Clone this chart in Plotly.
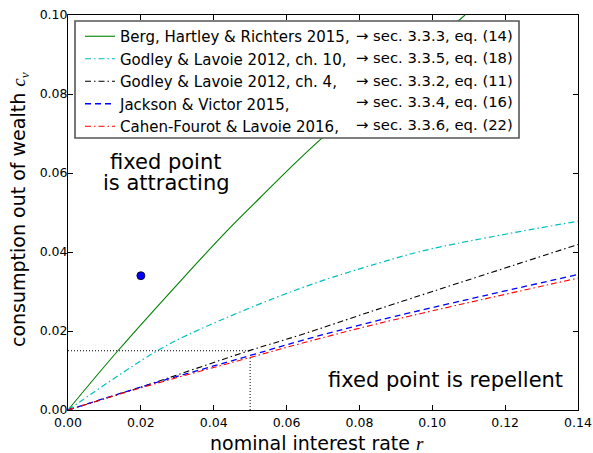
import plotly.graph_objects as go

# ---- data ----
r_berg = [0.0, 0.0137, 0.0313, 0.0441, 0.0528, 0.0610, 0.0700, 0.1090]
c_berg = [0.0, 0.0150, 0.0331, 0.0458, 0.0538, 0.0613, 0.0691, 0.1000]

r_gl10 = [0.0, 0.0245, 0.0359, 0.0638, 0.0857, 0.1003, 0.1400]
c_gl10 = [0.0, 0.0150, 0.0203, 0.0308, 0.0373, 0.0409, 0.0478]

r_gl4 = [0.0, 0.020, 0.050, 0.0638, 0.0857, 0.140]
c_gl4 = [0.0, 0.0058, 0.0151, 0.0190, 0.0257, 0.0419]

r_jv = [0.0, 0.020, 0.050, 0.0638, 0.0857, 0.140]
c_jv = [0.0, 0.0058, 0.0138, 0.0175, 0.0228, 0.0343]

r_cf = [0.0, 0.020, 0.050, 0.0638, 0.0857, 0.140]
c_cf = [0.0, 0.0056, 0.0133, 0.0168, 0.0220, 0.0334]

names = ["Berg, Hartley & Richters 2015,",
         "Godley & Lavoie 2012, ch. 10,",
         "Godley & Lavoie 2012, ch. 4,",
         "Jackson & Victor 2015,",
         "Cahen-Fourot & Lavoie 2016,"]
refs = ["→ sec. 3.3.3, eq. (14)",
        "→ sec. 3.3.5, eq. (18)",
        "→ sec. 3.3.2, eq. (11)",
        "→ sec. 3.3.4, eq. (16)",
        "→ sec. 3.3.6, eq. (22)"]

guide_h_r = [0.0, 0.0496]
guide_h_c = [0.015, 0.015]
guide_v_r = [0.05, 0.05]
guide_v_c = [0.0, 0.0131]

point_r = [0.02]
point_c = [0.034]

x_ticks = [0.0, 0.02, 0.04, 0.06, 0.08, 0.10, 0.12, 0.14]
y_ticks = [0.0, 0.02, 0.04, 0.06, 0.08, 0.10]

x_title = "nominal interest rate <i><span style='font-family:Liberation Serif'>r</span></i>"
y_title = "consumption out of wealth <i><span style='font-family:Liberation Serif'>c<sub>v</sub></span></i>"

FONT = "DejaVu Sans"

# ---- figure ----
W, H = 593, 453
ML, MR, MT, MB = 68, 15, 15, 43
PW = W - ML - MR
PH = H - MT - MB


def px2paper_x(px):
    return (px - ML) / PW


def px2paper_y(py):
    return (H - MB - py) / PH


fig = go.Figure()

series = [
    (r_berg, c_berg, "#008000", "solid", 1.1),
    (r_gl10, c_gl10, "#00bfbf", "6px,3px,1.5px,3px", 1.2),
    (r_gl4, c_gl4, "#000000", "6px,3px,1.5px,3px", 1.1),
    (r_jv, c_jv, "#0000ff", "6px,4px", 1.3),
    (r_cf, c_cf, "#ff0000", "6px,3px,1.5px,3px", 1.1),
]
for (xs, ys, col, dash, lw), nm in zip(series, names):
    fig.add_trace(go.Scatter(x=xs, y=ys, mode="lines", name=nm,
                             line=dict(color=col, dash=dash, width=lw,
                                       shape="spline", smoothing=1.0)))

fig.add_trace(go.Scatter(x=guide_h_r, y=guide_h_c, mode="lines", showlegend=False,
                         line=dict(color="black", dash="1px,2px", width=1)))
fig.add_trace(go.Scatter(x=guide_v_r, y=guide_v_c, mode="lines", showlegend=False,
                         line=dict(color="black", dash="1px,2px", width=1)))
fig.add_trace(go.Scatter(x=point_r, y=point_c, mode="markers", showlegend=False,
                         marker=dict(color="#0000ff", size=8,
                                     line=dict(color="black", width=0.8))))

# legend frame
fig.add_shape(type="rect", xref="paper", yref="paper",
              x0=px2paper_x(75), x1=px2paper_x(519),
              y0=px2paper_y(138), y1=px2paper_y(21),
              line=dict(color="#555555", width=1.6), fillcolor="white",
              layer="above")

row_y = [35, 57.3, 80, 101.7, 124]
for txt, ry in zip(refs, row_y):
    fig.add_annotation(text=txt, xref="paper", yref="paper",
                       x=px2paper_x(354), y=px2paper_y(ry),
                       xanchor="left", yanchor="middle", showarrow=False,
                       font=dict(family=FONT, size=14.8, color="black"))

fig.add_annotation(text="fixed point", xref="paper", yref="paper",
                   x=px2paper_x(166), y=px2paper_y(161.7), xanchor="center",
                   yanchor="middle", showarrow=False,
                   font=dict(family=FONT, size=21, color="black"))
fig.add_annotation(text="is attracting", xref="paper", yref="paper",
                   x=px2paper_x(166), y=px2paper_y(183.3), xanchor="center",
                   yanchor="middle", showarrow=False,
                   font=dict(family=FONT, size=21, color="black"))
fig.add_annotation(text="fixed point is repellent", xref="paper", yref="paper",
                   x=px2paper_x(445.7), y=px2paper_y(380), xanchor="center",
                   yanchor="middle", showarrow=False,
                   font=dict(family=FONT, size=21, color="black"))

# axis titles
fig.add_annotation(text=x_title, xref="paper", yref="paper",
                   x=px2paper_x(317), y=px2paper_y(443), xanchor="center",
                   yanchor="middle", showarrow=False,
                   font=dict(family=FONT, size=19, color="black"))
fig.add_annotation(text=y_title, xref="paper", yref="paper",
                   x=px2paper_x(19), y=px2paper_y(210), xanchor="center",
                   yanchor="middle", showarrow=False, textangle=-90,
                   font=dict(family=FONT, size=19, color="black"))

axis_common = dict(showline=True, linecolor="black", linewidth=1, mirror="ticks",
                   ticks="inside", ticklen=5, tickwidth=1, tickcolor="black",
                   showgrid=False, zeroline=False, tickformat=".2f",
                   tickfont=dict(family=FONT, size=12.5, color="black"))

fig.update_layout(
    width=W, height=H,
    margin=dict(l=ML, r=MR, t=MT, b=MB, autoexpand=False),
    paper_bgcolor="white", plot_bgcolor="white",
    font=dict(family=FONT, color="black"),
    xaxis=dict(range=[0, 0.14], tickvals=x_ticks, ticklabelstandoff=1, **axis_common),
    yaxis=dict(range=[0, 0.1], tickvals=y_ticks, ticklabelstandoff=-3, **axis_common),
    legend=dict(x=px2paper_x(80), y=px2paper_y(20), xanchor="left", yanchor="top",
                bgcolor="rgba(0,0,0,0)", borderwidth=0,
                font=dict(family=FONT, size=15, color="black")),
    showlegend=True,
)

fig.write_html("out.html", config={"displayModeBar": False},
               post_script="document.body.style.margin='0';document.body.style.padding='0';")
